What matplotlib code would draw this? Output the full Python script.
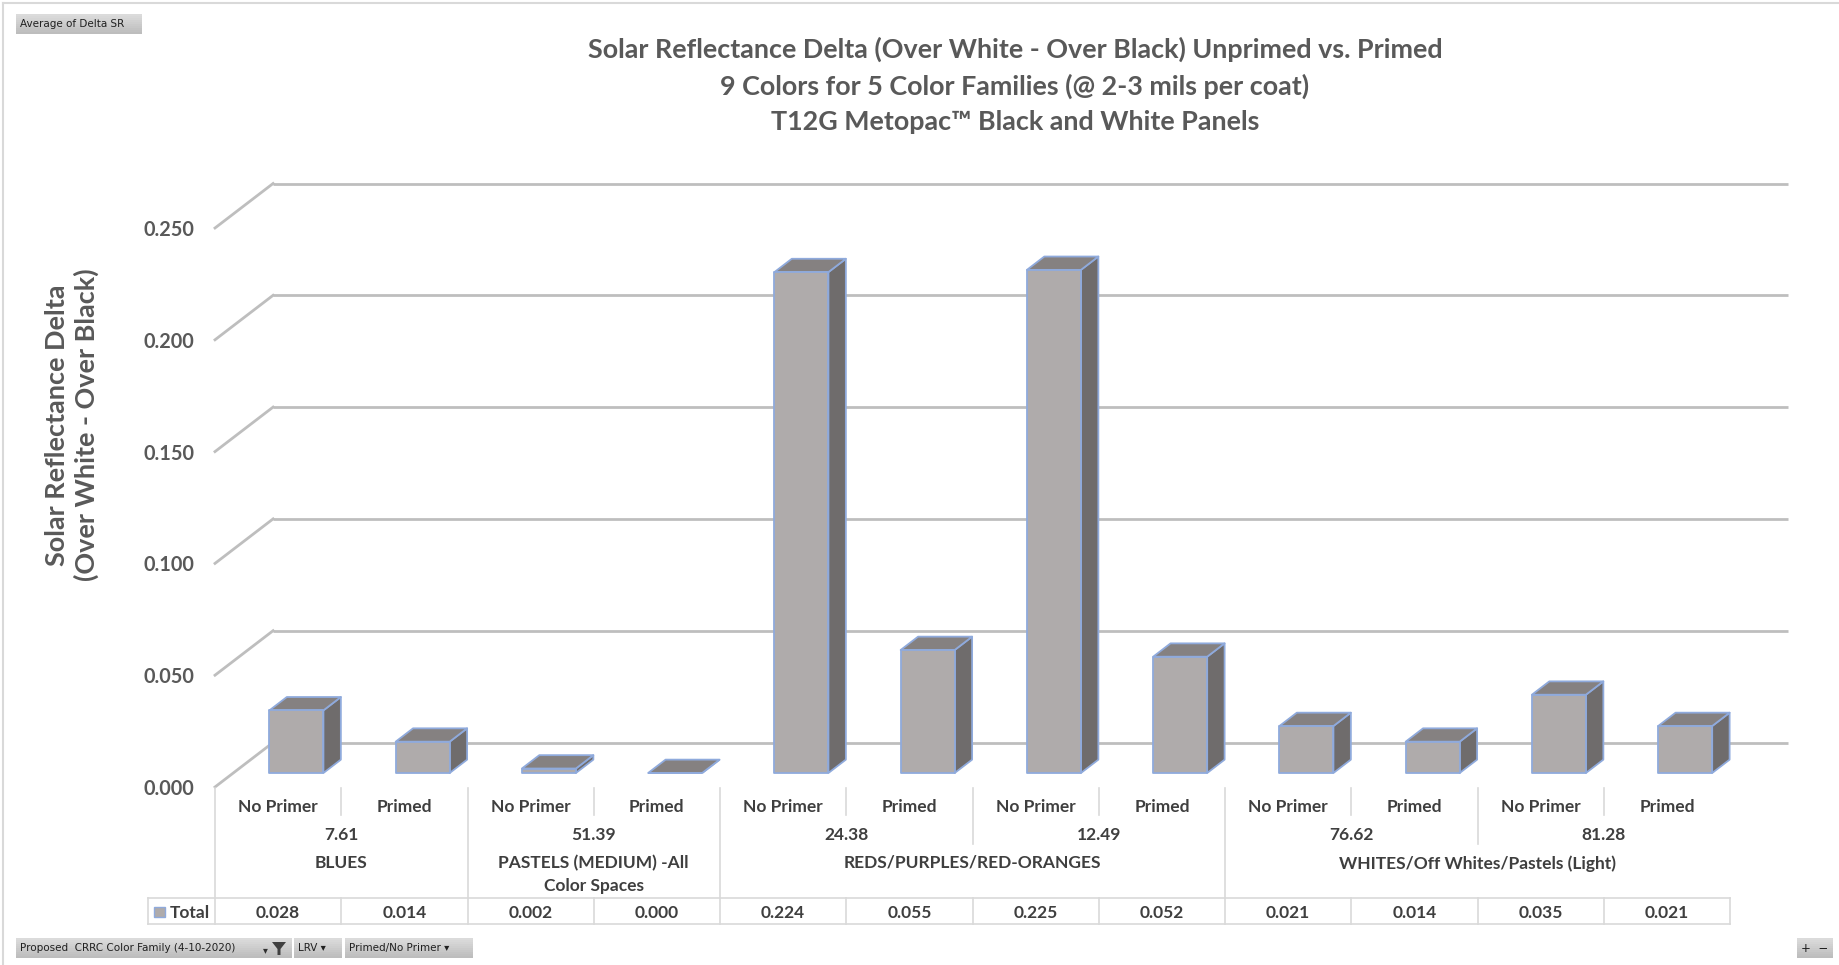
import matplotlib
matplotlib.use("Agg")
import matplotlib.pyplot as plt
from matplotlib import font_manager as fm
from matplotlib.patches import Polygon, Rectangle
from matplotlib.lines import Line2D
from matplotlib.transforms import blended_transform_factory
from matplotlib.ticker import FormatStrFormatter

# ---- data -------------------------------------------------------------
primer_labels = ["No Primer", "Primed"] * 6
lrv_labels = ["7.61", "51.39", "24.38", "12.49", "76.62", "81.28"]
lrv_family = [
    "BLUES",
    "PASTELS (MEDIUM) -All\nColor Spaces",
    "REDS/PURPLES/RED-ORANGES",
    "REDS/PURPLES/RED-ORANGES",
    "WHITES/Off Whites/Pastels (Light)",
    "WHITES/Off Whites/Pastels (Light)",
]
delta_sr = [0.028, 0.014, 0.002, 0.000, 0.224, 0.055,
            0.225, 0.052, 0.021, 0.014, 0.035, 0.021]
value_ticks = [0.000, 0.050, 0.100, 0.150, 0.200, 0.250]
title_lines = [
    "Solar Reflectance Delta (Over White - Over Black) Unprimed vs. Primed",
    "9 Colors for 5 Color Families (@ 2-3 mils per coat)",
    "T12G Metopac\u2122 Black and White Panels",
]
y_title = "Solar Reflectance Delta\n(Over White - Over Black)"


# ---- font: first candidate family that ships a bold face ---------------
def _weight(w):
    if isinstance(w, str):
        return fm.weight_dict.get(w, 400)
    return int(w)


def pick_family(cands):
    for fam in cands:
        for f in fm.fontManager.ttflist:
            if f.name == fam and _weight(f.weight) >= 600:
                return fam
    return "DejaVu Sans"


FAM = pick_family(["Lato", "Open Sans", "Noto Sans", "Roboto", "Liberation Sans"])
plt.rcParams["font.family"] = [FAM, "DejaVu Sans"]
plt.rcParams["font.weight"] = "bold"

TXT = "#595959"
TBL = "#3F3F3F"
GRID = "#BEBEBE"
TLINE = "#D9D9D9"
FACE, TOP, SIDE, EDGE = "#AFABAB", "#858181", "#6F6C6C", "#8FAADC"

W, H = 1839, 965
fig = plt.figure(figsize=(W / 100, H / 100), dpi=100)
fig.patch.set_facecolor("white")
renderer = fig.canvas.get_renderer()


def fy(px):
    return 1 - px / H


def fit_size(s, target_px, base=20.0):
    t = fig.text(0, 0, s, fontsize=base, fontweight="bold")
    w = t.get_window_extent(renderer).width
    t.remove()
    return base * target_px / w


TITLE_FS = fit_size(title_lines[0], 857)
YLAB_FS = fit_size("Solar Reflectance Delta", 281)
TABLE_FS = 0.5 * (fit_size("REDS/PURPLES/RED-ORANGES", 249) + fit_size("No Primer", 82))
TICK_FS = fit_size("0.250", 51)

# front plane of the 3-D plot box
ax = fig.add_axes([215 / W, fy(787), 1515 / W, 559 / H])
n = len(delta_sr)
ax.set_xlim(-0.5, n - 0.5)
ax.set_ylim(0, 0.25)
ax.set_facecolor("none")
for s in ax.spines.values():
    s.set_visible(False)
ax.set_xticks([])
ax.set_yticks(value_ticks)
ax.yaxis.set_major_formatter(FormatStrFormatter("%.3f"))
ax.tick_params(axis="y", length=0, pad=15, labelsize=TICK_FS, labelcolor=TXT)
for lab in ax.get_yticklabels():
    lab.set_fontweight("bold")

# oblique depth vector (category units, value units)
DX, DY = 0.46, 0.0199
F0, F1 = 0.315, 0.615      # bar front / back depth fraction
BW = 0.428                 # bar width

# walls: back gridlines and left-wall diagonals
for v in value_ticks:
    ax.plot([-0.5 + DX, n - 0.5 + DX], [v + DY, v + DY], color=GRID,
            lw=2, clip_on=False, zorder=1, solid_capstyle="butt")
    ax.plot([-0.5, -0.5 + DX], [v, v + DY], color=GRID, lw=2,
            clip_on=False, zorder=1)

# 3-D columns
for i, v in enumerate(delta_sr):
    x0, x1 = i - BW / 2 + F0 * DX, i + BW / 2 + F0 * DX
    y0 = F0 * DY
    ddx, ddy = (F1 - F0) * DX, (F1 - F0) * DY
    side = [(x1, y0), (x1, y0 + v), (x1 + ddx, y0 + v + ddy), (x1 + ddx, y0 + ddy)]
    top = [(x0, y0 + v), (x1, y0 + v), (x1 + ddx, y0 + v + ddy), (x0 + ddx, y0 + v + ddy)]
    front = [(x0, y0), (x1, y0), (x1, y0 + v), (x0, y0 + v)]
    for pts, col in ((side, SIDE), (top, TOP), (front, FACE)):
        ax.add_patch(Polygon(pts, closed=True, facecolor=col, edgecolor=EDGE,
                             lw=1.3, joinstyle="round", clip_on=False, zorder=3 + i * 0.01))

# ---- category table under the plot ------------------------------------
tr = blended_transform_factory(ax.transData, fig.transFigure)


def vline(x, p0, p1):
    ax.add_line(Line2D([x, x], [fy(p0), fy(p1)], transform=tr, color=TLINE,
                       lw=1.2, clip_on=False))


def hline(xa, xb, p):
    ax.add_line(Line2D([xa, xb], [fy(p), fy(p)], transform=tr, color=TLINE,
                       lw=1.2, clip_on=False))


tkw = dict(transform=tr, ha="center", va="center", fontsize=TABLE_FS,
           fontweight="bold", color=TBL, clip_on=False)

for i, lab in enumerate(primer_labels):
    ax.text(i, fy(807.5), lab, **tkw)

for g, lab in enumerate(lrv_labels):
    ax.text(2 * g + 0.5, fy(835.5), lab, **tkw)

# family spans
spans = []
for g, fam in enumerate(lrv_family):
    if spans and spans[-1][0] == fam:
        spans[-1][2] = 2 * g + 1
    else:
        spans.append([fam, 2 * g, 2 * g + 1])
for fam, a, b in spans:
    ax.text((a + b) / 2, fy(855), fam, **{**tkw, "va": "top"}, linespacing=1.55)

fam_bounds = {a for _, a, _ in spans}
for b in range(n + 1):
    x = b - 0.5
    if b == 0:
        vline(x, 788, 924)
        continue
    if b == n:
        vline(x, 898, 924)
        continue
    if b in fam_bounds:
        vline(x, 788, 898)
    elif b % 2 == 0:
        vline(x, 788, 844)
    else:
        vline(x, 788, 815)
    vline(x, 898, 924)

# totals row
HDR = -0.5 - 67 / 126.25
hline(HDR, n - 0.5, 898)
hline(HDR, n - 0.5, 924)
vline(HDR, 898, 924)
for i, v in enumerate(delta_sr):
    ax.text(i, fy(913), f"{v:.3f}", **tkw)
ax.text(-0.5 - 45 / 126.25, fy(913), "Total", **{**tkw, "ha": "left"})
fig.patches.append(Rectangle((154 / W, fy(917)), 11 / W, 10 / H, transform=fig.transFigure,
                             facecolor=FACE, edgecolor=EDGE, lw=1))

# ---- titles -------------------------------------------------------------
for k, line in enumerate(title_lines):
    fig.text(1015 / W, fy(49.5 + 36.4 * k), line, ha="center", va="center",
             fontsize=TITLE_FS, fontweight="bold", color=TXT)
fig.text(72 / W, fy(425), y_title, rotation=90, ha="center", va="center",
         multialignment="center", fontsize=YLAB_FS, fontweight="bold", color=TXT,
         linespacing=1.2)


# ---- pivot field buttons --------------------------------------------------
def button(x0, y0, x1, y1, label, ha="left", size=7.5):
    steps = 10
    for s in range(steps):
        c = 0.86 - 0.12 * s / (steps - 1)
        fig.patches.append(Rectangle((x0 / W, fy(y0 + (y1 - y0) * (s + 1) / steps)),
                                     (x1 - x0) / W, (y1 - y0) / steps / H,
                                     transform=fig.transFigure, facecolor=(c, c, c),
                                     edgecolor="none"))
    tx = x0 + 4 if ha == "left" else (x0 + x1) / 2
    fig.text(tx / W, fy((y0 + y1) / 2), label, ha=ha, va="center", fontsize=size,
             color="#202020", family="DejaVu Sans", fontweight="normal")


button(16, 14, 142, 34, "Average of Delta SR")
button(16, 938, 292, 958, "Proposed  CRRC Color Family (4-10-2020)")
fig.text(265 / W, fy(950), "\u25be", fontsize=7, color="#303030", ha="center", va="center",
         family="DejaVu Sans")
fig.patches.append(Polygon([(272 / W, fy(942)), (286 / W, fy(942)), (280.5 / W, fy(949)),
                            (280.5 / W, fy(955)), (277.5 / W, fy(955)), (277.5 / W, fy(949))],
                           closed=True, transform=fig.transFigure, facecolor="#404040",
                           edgecolor="none"))
button(294, 938, 342, 958, "LRV \u25be")
button(345, 938, 473, 958, "Primed/No Primer \u25be")
button(1797, 938, 1833, 958, "+  \u2212", ha="center", size=8.5)

# chart area frame (top and left edges)
fig.add_artist(Line2D([3 / W, 1], [fy(3), fy(3)], transform=fig.transFigure,
                      color="#D9D9D9", lw=1.5))
fig.add_artist(Line2D([3 / W, 3 / W], [fy(3), 0], transform=fig.transFigure,
                      color="#D9D9D9", lw=1.5))

fig.savefig("out.png", dpi=100, facecolor="white")
